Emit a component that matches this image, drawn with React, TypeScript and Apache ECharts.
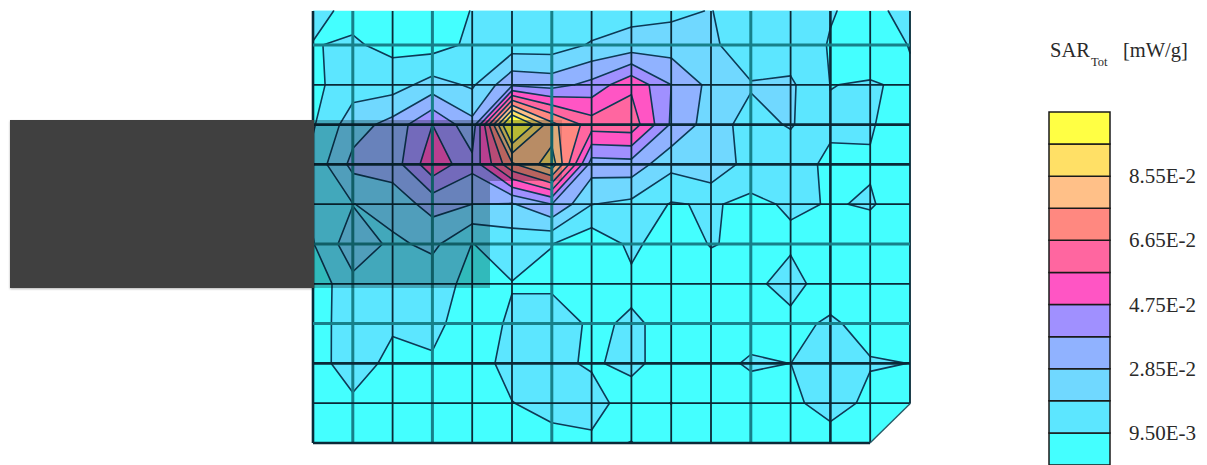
import React, { useEffect, useRef } from "react";
import * as echarts from "echarts";

const SAR_STEP = 9.5e-3;
// SAR at the measurement nodes, in multiples of SAR_STEP (rows top to bottom)
const sarRow0 = [1.3, 0.72, 0.6, 0.7, 1.02, 1.2, 1.2, 1.3, 1.69, 1.75, 2.05, 1.1, 1.2, 1.05, 0.75, 1.3];
const sarRow1 = [0.96, 1.12, 0.74, 0.6, 1.2, 1.5, 1.5, 2.1, 2.35, 2.52, 2.27, 1.1, 1.45, 0.95, 0.58, 1.03];
const sarRow2 = [0.76, 1.55, 1.55, 2.4, 1.85, 3.8, 3.6, 4.3, 5.8, 4.0, 2.7, 2.1, 2.16, 0.985, 1.06, 0.88];
const sarRow3 = [0.9, 2.55, 3.36, 5.0, 3.3, 12.0, 8.3, 6.5, 6.6, 3.87, 2.48, 1.6, 2.1, 1.1, 1.05, 0.67];
const sarRow4 = [1.3, 3.3, 3.46, 5.7, 4.3, 7.8, 9.6, 3.5, 3.6, 2.29, 2.8, 1.54, 1.25, 0.88, 0.95, 0.6];
const sarRow5 = [1.2, 1.97, 2.46, 3.36, 3.0, 2.9, 4.0, 2.02, 1.76, 0.93, 1.09, 0.79, 1.12, 0.96, 1.05, 0.7];
const sarRow6 = [0.95, 2.62, 1.79, 2.25, 0.98, 1.4, 1.02, 0.3, 1.2, 0.5, 1.05, 0.8, 0.82, 0.7, 0.7, 0.6];
const sarRow7 = [0.33, 1.73, 1.4, 1.3, 0.8, 0.97, 0.8, 0.7, 0.8, 0.6, 0.55, 0.69, 1.47, 0.3, 1.005, 0.7];
const sarRow8 = [0.57, 1.5, 1.13, 1.15, 0.7, 1.09, 1.6, 0.82, 1.13, 0.75, 0.6, 0.48, 0.62, 1.2, 0.53, 0.6];
const sarRow9 = [0.61, 1.46, 0.73, 0.93, 0.6, 1.3, 1.19, 0.9, 1.21, 0.6, 0.6, 1.15, 0.995, 1.6, 1.1, 0.99];
const sarRow10 = [0.5, 0.83, 0.6, 0.6, 0.6, 0.98, 1.25, 1.35, 0.57, 1.01, 0.6, 0.4, 0.6, 1.74, 0.6, 0.6];
const sarRow11 = [0.5, 0.6, 0.5, 0.5, 0.5, 0.6, 0.74, 0.83, 1.02, 0.6, 0.5, 0.5, 0.5, 0.15, 0.5, 0.5];
const sarRows = [sarRow0, sarRow1, sarRow2, sarRow3, sarRow4, sarRow5, sarRow6, sarRow7, sarRow8, sarRow9, sarRow10, sarRow11].map(
  (r) => r.map((v) => v * SAR_STEP)
);

const xNodes = sarRow0.map((_, i) => i);
const yNodes = [10.855, 10, 9, 8, 7, 6, 5, 4, 3, 2, 1, 0];
const bandColors = ["#44FFFF", "#5CE6FF", "#70D8FF", "#90B2FF", "#A090FF", "#FF55C4", "#FF66A0", "#FF8880", "#FFC088", "#FFE066", "#FFFF44"];
const bandFloors = bandColors.map((_, i) => i * SAR_STEP);
const tickLabels: Record<number, string> = { 1: "9.50E-3", 3: "2.85E-2", 5: "4.75E-2", 7: "6.65E-2", 9: "8.55E-2" };
const DARK = "#0a2a38";
const TEAL = "#17808a";
const vLineStyle = ["D", "T", "d", "T", "d", "d", "T", "d", "d", "d", "d", "T", "d", "D", "d", "d"];
const hLineStyle = ["", "T", "d", "D", "D", "d", "T", "d", "T", "D", "d", "D"];
const cornerX = [13.995, 15, 15];
const cornerY = [0, 0, 0.985];

const cells: number[][] = [];
for (let j = 0; j < yNodes.length - 1; j++) for (let i = 0; i < xNodes.length - 1; i++) cells.push([i, j]);
const gridLines: number[][] = [];
xNodes.forEach((_, i) => gridLines.push([0, i]));
yNodes.forEach((_, j) => { if (hLineStyle[j]) gridLines.push([1, j]); });

type P = [number, number];
function corners(i: number, j: number) {
  return [
    { p: [xNodes[i], yNodes[j]] as P, v: sarRows[j][i] },
    { p: [xNodes[i + 1], yNodes[j]] as P, v: sarRows[j][i + 1] },
    { p: [xNodes[i + 1], yNodes[j + 1]] as P, v: sarRows[j + 1][i + 1] },
    { p: [xNodes[i], yNodes[j + 1]] as P, v: sarRows[j + 1][i] },
  ];
}
function cross(a: { p: P; v: number }, b: { p: P; v: number }, L: number): P {
  const t = (L - a.v) / (b.v - a.v);
  return [a.p[0] + t * (b.p[0] - a.p[0]), a.p[1] + t * (b.p[1] - a.p[1])];
}
// region of one cell at or above L, plus the contour segments
function cut(i: number, j: number, L: number) {
  const c = corners(i, j);
  const hi = c.map((k) => k.v >= L);
  const count = hi.filter(Boolean).length;
  const polys: P[][] = [];
  const segs: [P, P][] = [];
  if (count === 0) return { polys, segs };
  if (count === 4) return { polys: [c.map((k) => k.p)], segs };
  if (count === 2 && hi[0] === hi[2]) {
    for (let n = 0; n < 4; n++) {
      if (!hi[n]) continue;
      const prev = cross(c[(n + 3) % 4], c[n], L);
      const next = cross(c[n], c[(n + 1) % 4], L);
      polys.push([prev, c[n].p, next]);
      segs.push([prev, next]);
    }
    return { polys, segs };
  }
  const poly: P[] = [];
  const xs: P[] = [];
  for (let n = 0; n < 4; n++) {
    const a = c[n];
    const b = c[(n + 1) % 4];
    if (hi[n]) poly.push(a.p);
    if (hi[n] !== hi[(n + 1) % 4]) {
      const q = cross(a, b, L);
      poly.push(q);
      xs.push(q);
    }
  }
  polys.push(poly);
  segs.push([xs[0], xs[1]]);
  return { polys, segs };
}

export default function App() {
  const ref = useRef<HTMLDivElement>(null);
  useEffect(() => {
    document.body.style.margin = "0";
    const chart = echarts.init(ref.current!, undefined, { renderer: "svg" });
    const serif = "'Liberation Serif', 'Times New Roman', serif";
    chart.setOption({
      animation: false,
      backgroundColor: "#ffffff",
      grid: [
        { left: 313, top: 11, width: 597, height: 432 },
        { left: 1049, top: 112, width: 61, height: 358.6 },
      ],
      xAxis: [
        { type: "value", gridIndex: 0, min: 0, max: 15, show: false },
        { type: "value", gridIndex: 1, min: 0, max: 1, show: false },
      ],
      yAxis: [
        { type: "value", gridIndex: 0, min: 0, max: 10.855, show: false },
        {
          type: "value",
          gridIndex: 1,
          min: 0,
          max: 11,
          interval: 1,
          position: "right",
          axisLine: { show: false },
          axisTick: { show: false },
          splitLine: { show: false },
          axisLabel: {
            show: true,
            margin: 19,
            fontFamily: serif,
            fontSize: 21,
            color: "#2a2a2a",
            formatter: (v: number) => tickLabels[v] || "",
          },
        },
      ],
      series: [
        {
          type: "custom",
          xAxisIndex: 0,
          yAxisIndex: 0,
          silent: true,
          z: 2,
          clip: false,
          data: cells,
          renderItem: (_: any, api: any) => {
            const i = api.value(0);
            const j = api.value(1);
            const children: any[] = [];
            const lines: any[] = [];
            bandFloors.forEach((L, k) => {
              const { polys, segs } = cut(i, j, k === 0 ? -1 : L);
              polys.forEach((poly) =>
                children.push({
                  type: "polygon",
                  shape: { points: poly.map((p) => api.coord(p)) },
                  style: { fill: bandColors[k], stroke: bandColors[k], lineWidth: 0.5 },
                })
              );
              if (k > 0)
                segs.forEach(([a, b]) => {
                  const A = api.coord(a);
                  const B = api.coord(b);
                  lines.push({
                    type: "line",
                    shape: { x1: A[0], y1: A[1], x2: B[0], y2: B[1] },
                    style: { stroke: "#0d3a56", lineWidth: 1.6, lineCap: "round" },
                    z2: 5,
                  });
                });
            });
            return { type: "group", children: children.concat(lines) };
          },
        },
        {
          type: "custom",
          xAxisIndex: 0,
          yAxisIndex: 0,
          silent: true,
          z: 3,
          clip: false,
          data: gridLines,
          renderItem: (_: any, api: any) => {
            const horizontal = api.value(0) === 1;
            const n = api.value(1);
            const a = horizontal ? api.coord([0, yNodes[n]]) : api.coord([xNodes[n], 0]);
            const b = horizontal ? api.coord([15, yNodes[n]]) : api.coord([xNodes[n], yNodes[0]]);
            const cls = horizontal ? hLineStyle[n] : vLineStyle[n];
            return {
              type: "line",
              shape: { x1: a[0], y1: a[1], x2: b[0], y2: b[1] },
              style: {
                stroke: cls === "T" ? TEAL : DARK,
                lineWidth: cls === "d" ? 1.8 : cls === "D" ? 2.6 : 3,
              },
            };
          },
        },
        {
          type: "custom",
          xAxisIndex: 0,
          yAxisIndex: 0,
          silent: true,
          z: 4,
          clip: false,
          data: [[0, 0]],
          renderItem: (_: any, api: any) => {
            const pts = cornerX.map((x, n) => api.coord([x, cornerY[n]]));
            const far = api.coord([15.2, -0.2]);
            return {
              type: "group",
              children: [
                {
                  type: "polygon",
                  shape: { points: [pts[0], [pts[0][0], far[1]], far, [far[0], pts[2][1]], pts[2]] },
                  style: { fill: "#ffffff" },
                },
                {
                  type: "line",
                  shape: { x1: pts[0][0], y1: pts[0][1], x2: pts[2][0], y2: pts[2][1] },
                  style: { stroke: "#2a5a66", lineWidth: 1.4 },
                },
              ],
            };
          },
        },
        {
          type: "custom",
          xAxisIndex: 1,
          yAxisIndex: 1,
          silent: true,
          z: 2,
          clip: false,
          data: bandColors.map((_, k) => [k]),
          encode: { y: 0 },
          renderItem: (_: any, api: any) => {
            const k = api.value(0);
            const lo = api.coord([0, k]);
            const hi = api.coord([1, k + 1]);
            return {
              type: "rect",
              shape: { x: lo[0], y: hi[1], width: hi[0] - lo[0], height: lo[1] - hi[1] },
              style: { fill: bandColors[k], stroke: "#1a1a1a", lineWidth: 1.5 },
            };
          },
        },
      ],
      graphic: {
        elements: [
          {
            type: "polygon",
            z: 20,
            shape: { points: [[313, 120], [553, 120], [553, 181], [490, 181], [490, 288], [313, 288]] },
            style: { fill: "rgba(0,8,12,0.28)" },
            silent: true,
          },
          {
            type: "rect",
            z: 20,
            shape: { x: 553, y: 120, width: 9, height: 61 },
            style: { fill: "rgba(0,8,12,0.12)" },
            silent: true,
          },
          {
            type: "rect",
            z: 21,
            shape: { x: 10, y: 120, width: 304, height: 168 },
            style: { fill: "#404040", shadowBlur: 2, shadowColor: "rgba(0,0,0,0.3)", shadowOffsetY: 1 },
            silent: true,
          },
          { type: "text", z: 21, x: 1050, y: 39, style: { text: "SAR", font: `20.5px ${serif}`, fill: "#2a2a2a" } },
          { type: "text", z: 21, x: 1091, y: 55, style: { text: "Tot", font: `12.5px ${serif}`, fill: "#2a2a2a" } },
          { type: "text", z: 21, x: 1123, y: 39, style: { text: "[mW/g]", font: `20.5px ${serif}`, fill: "#2a2a2a" } },
        ],
      },
    });
    return () => chart.dispose();
  }, []);
  return <div ref={ref} style={{ position: "fixed", left: 0, top: 0, width: 1207, height: 465, overflow: "hidden" }} />;
}
